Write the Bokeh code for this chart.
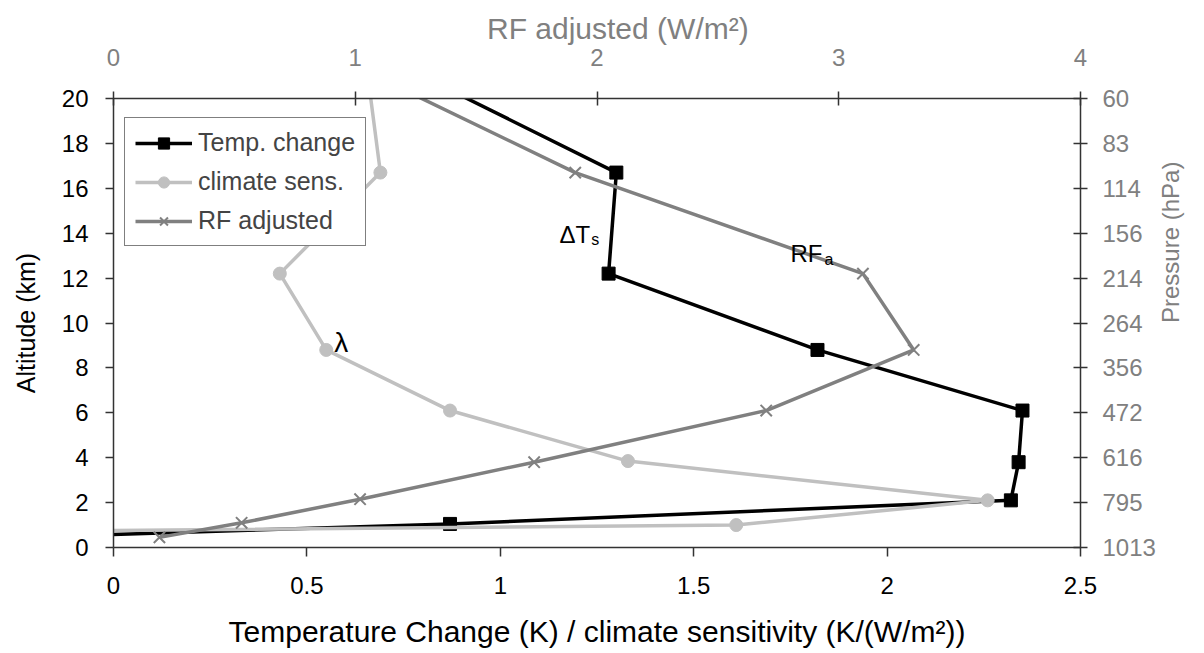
import math
from bokeh.plotting import figure
from bokeh.models import (Range1d, LinearAxis, FixedTicker, Legend, LegendItem, Label)
from bokeh.embed import file_html
from bokeh.resources import INLINE

# ---------------- data ----------------
alt_temp = [0.55, 1.05, 2.1, 3.8, 6.1, 8.8, 12.2, 16.7, 22.0]
temp_change = [-0.05, 0.87, 2.32, 2.34, 2.35, 1.82, 1.28, 1.30, 0.68]

alt_lambda = [0.75, 1.0, 2.1, 3.85, 6.1, 8.8, 12.2, 16.7, 22.0]
climate_sens = [-0.05, 1.61, 2.26, 1.33, 0.87, 0.55, 0.43, 0.69, 0.65]

alt_rf = [0.45, 1.1, 2.15, 3.8, 6.1, 8.8, 12.2, 16.7, 22.0]
rf_adjusted = [0.19, 0.53, 1.02, 1.74, 2.70, 3.31, 3.10, 1.91, 0.89]

bottom_ticks = [0, 0.5, 1, 1.5, 2, 2.5]
bottom_labels = ["0", "0.5", "1", "1.5", "2", "2.5"]
top_ticks = [0, 1, 2, 3, 4]
alt_ticks = [0, 2, 4, 6, 8, 10, 12, 14, 16, 18, 20]
pressure_labels = ["1013", "795", "616", "472", "356", "264", "214", "156", "114", "83", "60"]

FONT = "Liberation Sans"
GREY = "#808080"
LIGHT = "#C0C0C0"
AXC = "#333333"
NB = "\u00a0"

p = figure(width=1200, height=650, output_backend="svg", toolbar_location=None,
           x_range=Range1d(0, 2.5), y_range=Range1d(0, 20),
           min_border_left=113, min_border_right=120, min_border_top=98, min_border_bottom=97,
           x_axis_location=None, y_axis_location=None)
p.grid.visible = False
p.outline_line_color = None
p.background_fill_color = "white"
p.border_fill_color = "white"

p.extra_x_ranges = {"rf": Range1d(0, 4)}
p.extra_y_ranges = {"p": Range1d(0, 20)}


def style(ax, color, tin, tout, lstd, tstd, title_size, tick_size="24px"):
    ax.axis_line_color = AXC
    ax.axis_line_width = 1.5
    ax.major_tick_line_color = AXC
    ax.major_tick_line_width = 1.5
    ax.major_tick_in = tin
    ax.major_tick_out = tout
    ax.minor_tick_line_color = None
    ax.major_label_text_font = FONT
    ax.major_label_text_font_size = tick_size
    ax.major_label_text_color = color
    ax.major_label_standoff = lstd
    ax.axis_label_text_font = FONT
    ax.axis_label_text_font_size = title_size
    ax.axis_label_text_font_style = "normal"
    ax.axis_label_text_color = color
    ax.axis_label_standoff = tstd


xb = LinearAxis(axis_label="Temperature Change (K) / climate sensitivity (K/(W/m²))",
                ticker=FixedTicker(ticks=bottom_ticks),
                major_label_overrides={t: l for t, l in zip(bottom_ticks, bottom_labels)})
style(xb, "black", 0, 9, 20, 18, "30px")
p.add_layout(xb, "below")

xt = LinearAxis(axis_label=NB * 5 + "RF adjusted (W/m²)", x_range_name="rf",
                ticker=FixedTicker(ticks=top_ticks))
style(xt, GREY, 7, 7, 26, 1, "30px")
p.add_layout(xt, "above")

yl = LinearAxis(axis_label="Altitude (km)", ticker=FixedTicker(ticks=alt_ticks))
style(yl, "black", 0, 8, 17, 19, "25px")
p.add_layout(yl, "left")

yr = LinearAxis(axis_label="Pressure (hPa)", y_range_name="p",
                ticker=FixedTicker(ticks=alt_ticks),
                major_label_overrides={t: l for t, l in zip(alt_ticks, pressure_labels)})
style(yr, GREY, 7, 7, 15, 12, "24px")
yr.axis_label_orientation = math.pi / 2
p.add_layout(yr, "right")

# ---------------- series ----------------
l1 = p.line(temp_change, alt_temp, line_color="black", line_width=3.5)
m1 = p.scatter(temp_change, alt_temp, marker="square", size=13, fill_color="black",
               line_color="black")

l2 = p.line(climate_sens, alt_lambda, line_color=LIGHT, line_width=3.5)
m2 = p.scatter(climate_sens, alt_lambda, marker="circle", size=13, fill_color=LIGHT,
               line_color=LIGHT)

l3 = p.line(rf_adjusted, alt_rf, line_color=GREY, line_width=3.5, x_range_name="rf")
m3 = p.scatter(rf_adjusted, alt_rf, marker="x", size=16, line_color=GREY, line_width=2,
               x_range_name="rf")

legend = Legend(items=[LegendItem(label="Temp. change", renderers=[l1, m1]),
                       LegendItem(label="climate sens.", renderers=[l2, m2]),
                       LegendItem(label="RF adjusted", renderers=[l3, m3])],
                location=(11, 301), margin=0, padding=10, spacing=10,
                label_text_font=FONT, label_text_font_size="25px",
                label_height=28, glyph_height=28, glyph_width=57, label_standoff=6,
                border_line_color="black", border_line_width=1,
                background_fill_color="white", background_fill_alpha=1.0)
p.add_layout(legend, "center")

# ---------------- annotations ----------------
ann = dict(text_font=FONT, text_color="black", text_baseline="alphabetic")
p.add_layout(Label(x=1.153, y=13.93, text="ΔT", text_font_size="24px", **ann))
p.add_layout(Label(x=1.235, y=13.72, text="s", text_font_size="16px", **ann))
p.add_layout(Label(x=1.75, y=13.1, text="RF", text_font_size="24px", **ann))
p.add_layout(Label(x=1.838, y=12.85, text="a", text_font_size="16px", **ann))
p.add_layout(Label(x=0.571, y=9.15, text="λ", text_font_size="28px", **ann))

open("out.html", "w").write(file_html(p, INLINE))
